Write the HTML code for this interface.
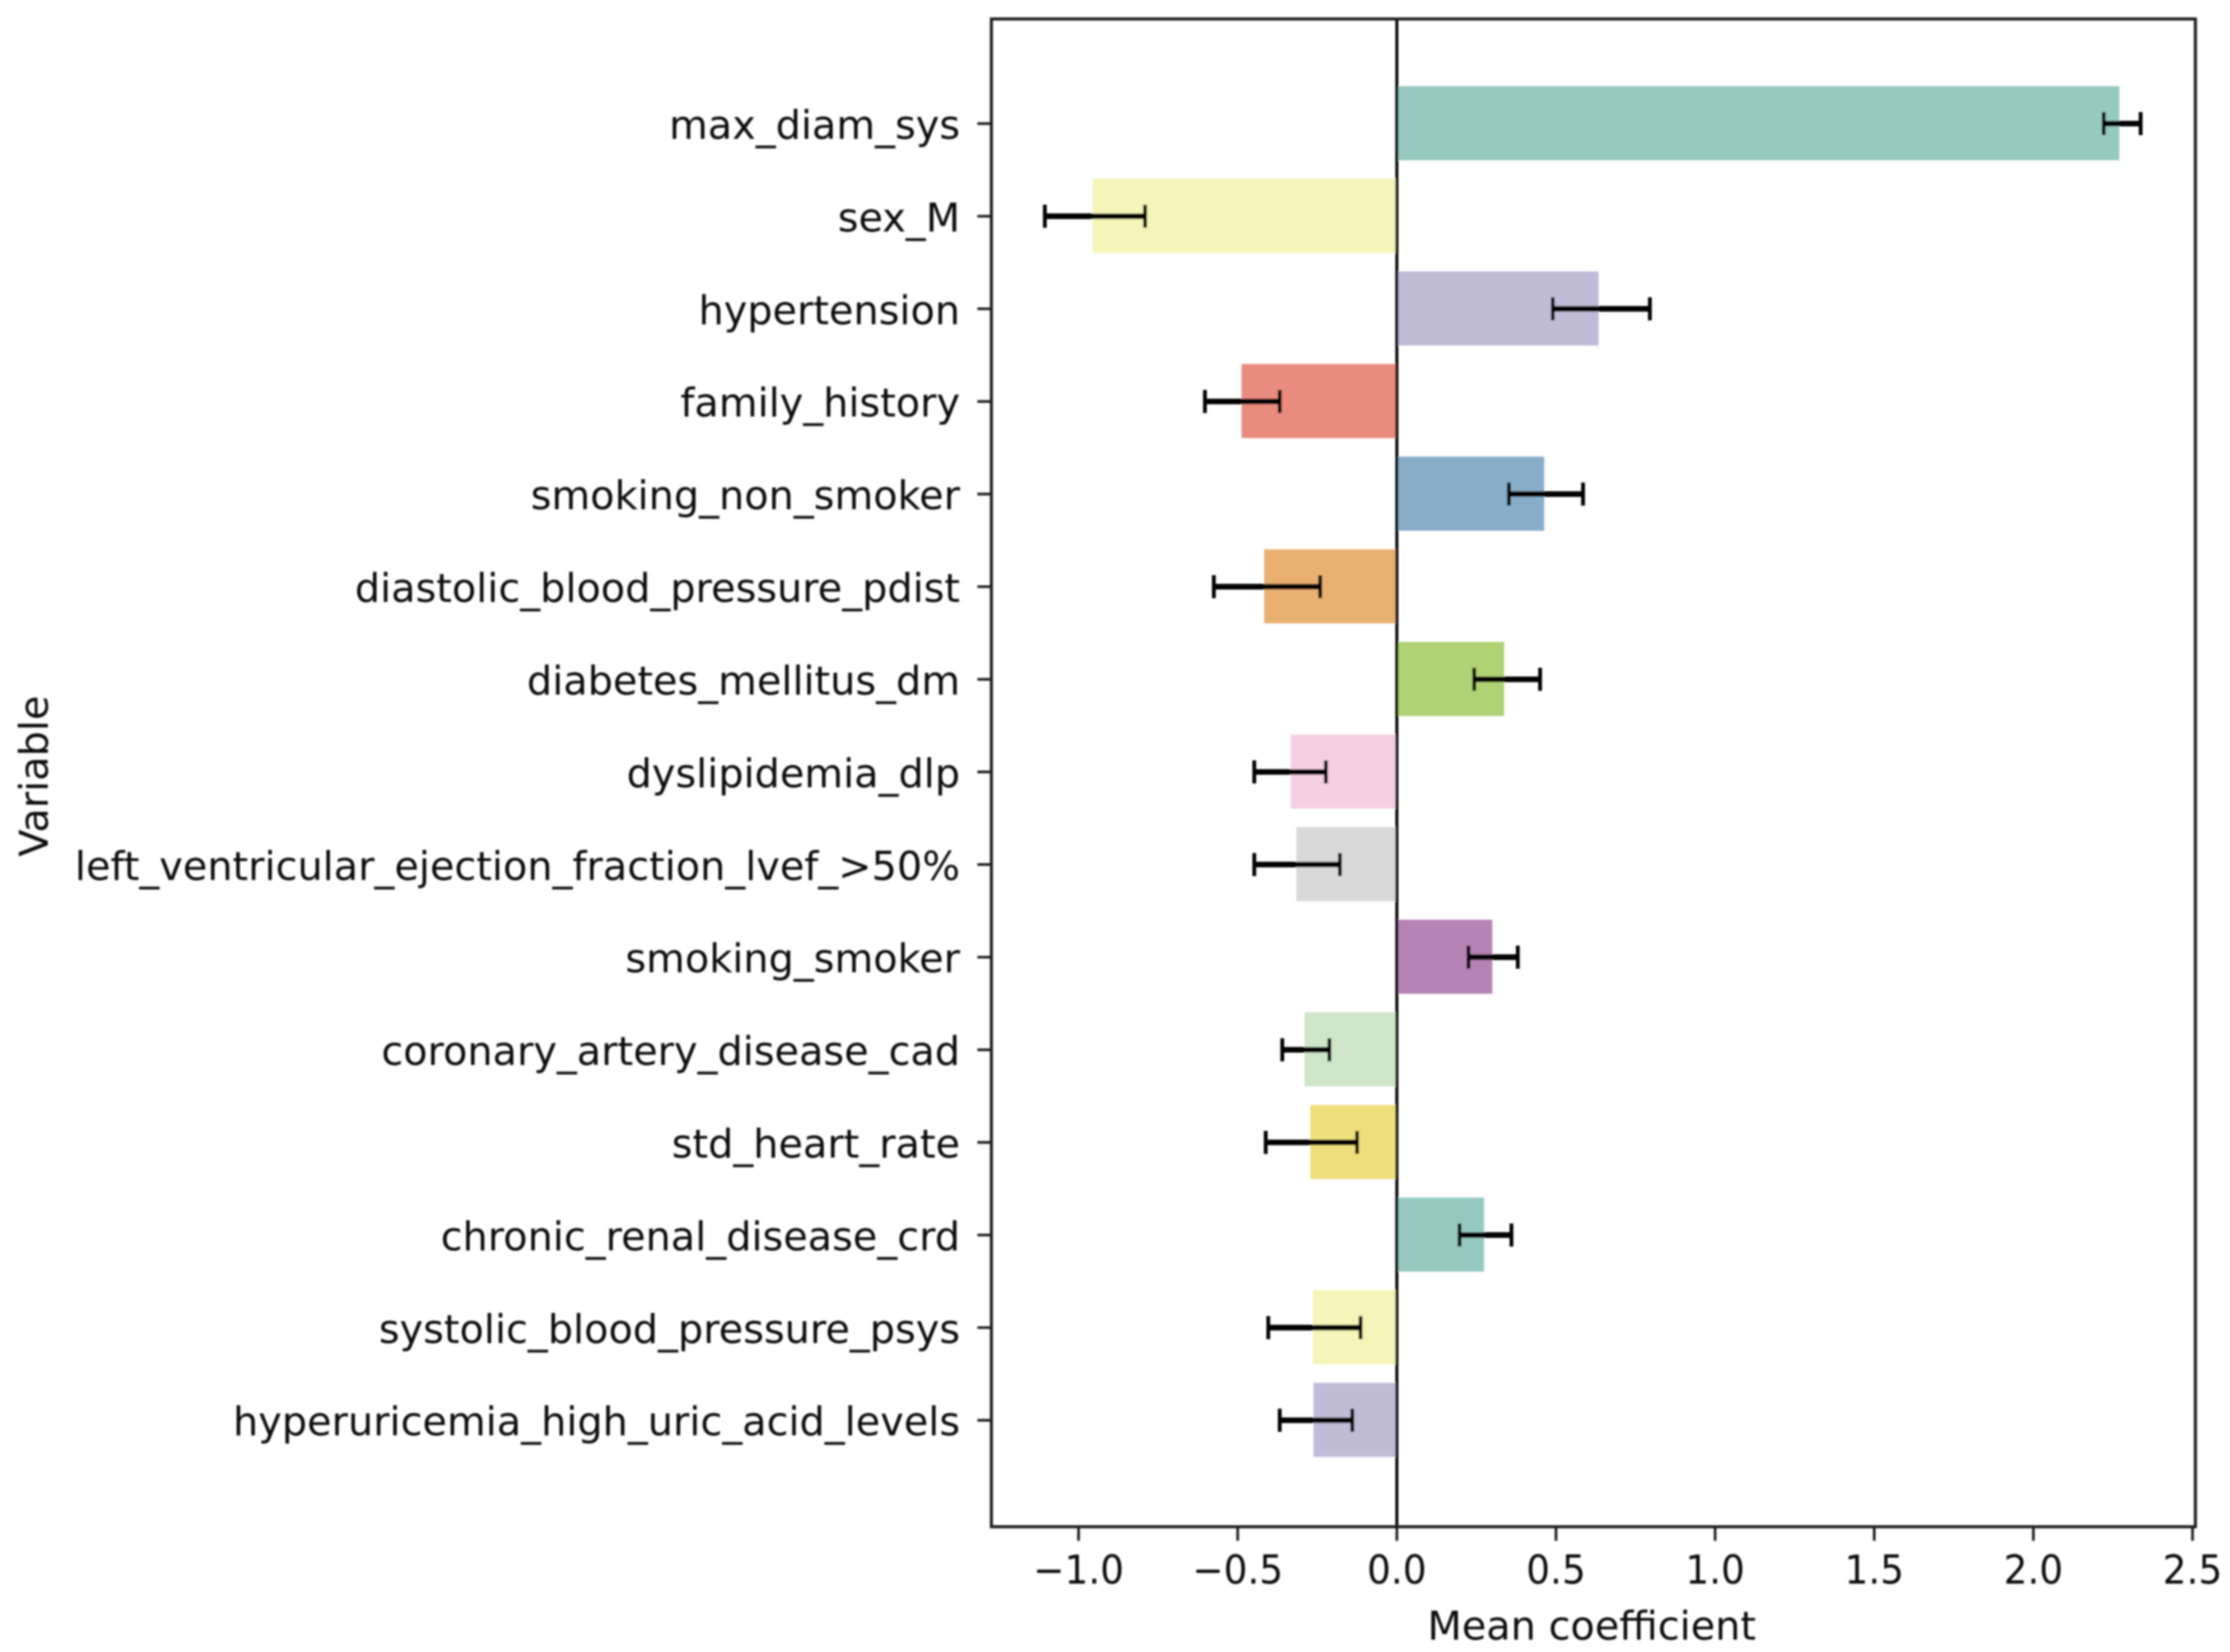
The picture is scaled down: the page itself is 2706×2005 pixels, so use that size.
<!DOCTYPE html>
<html lang="en">
<head>
<meta charset="utf-8">
<title>Mean coefficient by variable</title>
<style>
  html, body { margin: 0; padding: 0; background: #ffffff; }
  body { width: 2706px; height: 2005px; overflow: hidden; }
  svg { display: block; }
  text { font-family: "DejaVu Sans", "Liberation Sans", sans-serif; fill: #111111; }
</style>
</head>
<body>
<svg id="chart" xmlns="http://www.w3.org/2000/svg" width="2706" height="2005" viewBox="0 0 2706 2005">
  <defs>
    <filter id="soft" x="-5%" y="-5%" width="110%" height="110%"><feGaussianBlur stdDeviation="1"/></filter>
  </defs>
  <rect x="0" y="0" width="2706" height="2005" fill="#ffffff"/>
  <g id="root" filter="url(#soft)"></g>
</svg>
<script>
const categories = ["max_diam_sys","sex_M","hypertension","family_history","smoking_non_smoker","diastolic_blood_pressure_pdist","diabetes_mellitus_dm","dyslipidemia_dlp","left_ventricular_ejection_fraction_lvef_>50%","smoking_smoker","coronary_artery_disease_cad","std_heart_rate","chronic_renal_disease_crd","systolic_blood_pressure_psys","hyperuricemia_high_uric_acid_levels"];
const meanCoefficient = [2.27,-0.956,0.634,-0.488,0.463,-0.417,0.337,-0.334,-0.316,0.30,-0.29,-0.272,0.274,-0.264,-0.262];
const errorLow = [2.221,-1.106,0.49,-0.603,0.352,-0.575,0.243,-0.448,-0.448,0.225,-0.36,-0.412,0.197,-0.404,-0.368];
const errorHigh = [2.337,-0.791,0.795,-0.368,0.585,-0.241,0.45,-0.223,-0.179,0.38,-0.212,-0.125,0.36,-0.114,-0.14];
const barColors = ["#96c9c0","#f5f5b9","#c0bcd7","#e98b7f","#88adc9","#e9b072","#afd274","#f5cfe3","#d9d9d9","#b583b5","#cfe6c8","#eedf7c","#96c9c0","#f5f5b9","#c0bcd7"];
const xTickValues = [-1.0,-0.5,0.0,0.5,1.0,1.5,2.0,2.5];
const xTickLabels = ["\u22121.0","\u22120.5","0.0","0.5","1.0","1.5","2.0","2.5"];
const xAxisTitle = "Mean coefficient";
const yAxisTitle = "Variable";

const plotLeft = 1203, plotRight = 2664, plotTop = 23, plotBottom = 1853;
const xDomainMin = -1.274, xDomainMax = 2.509;
const yDomainMin = -1.13, yDomainMax = 15.15;
const barThickness = 0.8, fontSize = 48.3;

function xScale(v) {
  return plotLeft + (v - xDomainMin) / (xDomainMax - xDomainMin) * (plotRight - plotLeft);
}
function yScale(i) {
  return plotTop + (i - yDomainMin) / (yDomainMax - yDomainMin) * (plotBottom - plotTop);
}

const SVG_NS = "http://www.w3.org/2000/svg";
const root = document.getElementById("root");
function shape(tag, attrs, parent) {
  const el = document.createElementNS(SVG_NS, tag);
  for (const k in attrs) el.setAttribute(k, attrs[k]);
  (parent || root).appendChild(el);
  return el;
}
const slug = s => s.toLowerCase().replace(/[^a-z0-9]+/g, "-").replace(/^-|-$/g, "");

// bars
const zeroX = xScale(0);
categories.forEach((name, i) => {
  const v = meanCoefficient[i];
  const bar = shape("rect", {
    x: Math.min(zeroX, xScale(v)),
    y: yScale(i - barThickness / 2) - 0.5,
    width: Math.abs(xScale(v) - zeroX),
    height: yScale(i + barThickness / 2) - yScale(i - barThickness / 2),
    fill: barColors[i]
  });
  
  
});

// zero reference line
const zeroLine = shape("line", { x1: zeroX, x2: zeroX, y1: plotTop, y2: plotBottom, stroke: "#000", "stroke-width": 3.6 });



// error bars
categories.forEach((name, i) => {
  const y = yScale(i), x0 = xScale(errorLow[i]), x1 = xScale(errorHigh[i]);
  const g = shape("g", { stroke: "#000", fill: "none" });
  
  
  shape("line", { x1: x0, x2: x1, y1: y, y2: y, "stroke-width": 6.8 }, g);
  shape("line", { x1: x0, x2: x0, y1: y - 14, y2: y + 14, "stroke-width": 4.6 }, g);
  shape("line", { x1: x1, x2: x1, y1: y - 14, y2: y + 14, "stroke-width": 4.6 }, g);
});

// spines
const frame = shape("rect", { x: plotLeft, y: plotTop, width: plotRight - plotLeft, height: plotBottom - plotTop, fill: "none", stroke: "#1a1a1a", "stroke-width": 3.6 });



// y axis ticks and labels
categories.forEach((name, i) => {
  const y = yScale(i);
  const tick = shape("line", { x1: plotLeft - 17, x2: plotLeft, y1: y, y2: y, stroke: "#1a1a1a", "stroke-width": 3.2 });
  
  
  const label = shape("text", { x: plotLeft - 38, y: y + 18.5, "text-anchor": "end", "font-size": fontSize });
  label.textContent = name;
  
  
});

// x axis ticks and labels
xTickValues.forEach((v, i) => {
  const x = xScale(v);
  const tick = shape("line", { x1: x, x2: x, y1: plotBottom, y2: plotBottom + 17, stroke: "#1a1a1a", "stroke-width": 3.2 });
  
  
  const label = shape("text", { x: 0, y: 0, "text-anchor": "middle", "font-size": fontSize, transform: "translate(" + x + " 1922) scale(0.94 1)" });
  label.textContent = xTickLabels[i];
  
  
});

// axis titles
const xTitle = shape("text", { x: (plotLeft + plotRight) / 2 - 2, y: 1990, "text-anchor": "middle", "font-size": fontSize });
xTitle.textContent = xAxisTitle;



const yTitle = shape("text", { x: 0, y: 0, "text-anchor": "middle", "font-size": fontSize, transform: "translate(58 942) rotate(-90)" });
yTitle.textContent = yAxisTitle;


</script>
</body>
</html>
